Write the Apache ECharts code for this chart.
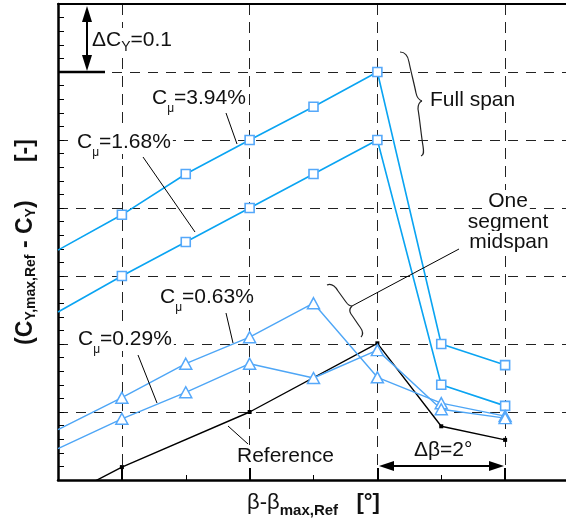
<!DOCTYPE html>
<html>
<head>
<meta charset="utf-8">
<script src="https://cdn.jsdelivr.net/npm/echarts@6/dist/echarts.min.js"></script>
<style>
html, body { margin: 0; padding: 0; background: #fff; }
#chart { width: 566px; height: 520px; }
</style>
</head>
<body>
<div id="chart"></div>
<script>
// x -- β-βmax,Ref [°]
// y -- CY,max,Ref - CY [-]
var beta = [-5, -4, -3, -2, -1, 0, 1, 2];
var cmu394 = [0.338, 0.390, 0.450, 0.500, 0.549, 0.600, 0.200, 0.169];
var cmu168 = [0.247, 0.300, 0.350, 0.400, 0.450, 0.500, 0.140, 0.109];
var cmu063 = [0.074, 0.121, 0.171, 0.210, 0.260, 0.151, 0.113, 0.094];
var cmu029 = [0.046, 0.090, 0.129, 0.171, 0.150, 0.191, 0.104, 0.091];
var betaRef = [-5, -4, -2, 0, 1, 2];
var cyRef = [-0.030, 0.019, 0.100, 0.201, 0.079, 0.059];

var xMin = -5, xMax = 3;
var font = '"Liberation Sans", Arial, sans-serif';
var ink = '#111';

var myChart = echarts.init(document.getElementById('chart'));

//把x,y数组拼成折线数据，左边界上的点只画线不画符号
function pts(xs, ys) {
	return xs.map(function(x, i) {
		var item = { value: [x, ys[i]] };
		if (x === xMin) item.symbol = 'none';
		return item;
	});
}

//带下标的注释文字（白底，盖住网格虚线）
function subText(left, mid, main, sub, rest, size, subSize, pad) {
	return {
		type: 'text', x: left, y: mid, z: 10,
		style: {
			text: '{m|' + main + '}{s|' + sub + '}{m|' + rest + '}',
			verticalAlign: 'middle',
			backgroundColor: '#fff', padding: [0, 2],
			rich: {
				m: { fontSize: size, fontFamily: font, fill: ink, lineHeight: 24 },
				s: { fontSize: subSize, fontFamily: font, fill: ink, lineHeight: 24, padding: [pad, 0, 0, 0] }
			}
		}
	};
}
function plain(left, mid, str, align) {
	return {
		type: 'text', x: left, y: mid, z: 10,
		style: {
			text: str, font: '21px ' + font, fill: ink, align: align || 'left', verticalAlign: 'middle',
			backgroundColor: '#fff', padding: [0, 2], lineHeight: 22
		}
	};
}
function seg(x1, y1, x2, y2, w) {
	return { type: 'line', z: 10, shape: { x1: x1, y1: y1, x2: x2, y2: y2 }, style: { stroke: '#000', lineWidth: w || 1 } };
}
function head(points) {
	return { type: 'polygon', z: 10, shape: { points: points }, style: { fill: '#000' } };
}
//花括号：每段三次贝塞尔 [x1,y1,cx1,cy1,cx2,cy2,x2,y2]
function brace(parts) {
	return {
		type: 'group',
		children: parts.map(function(p) {
			return {
				type: 'bezierCurve', z: 10,
				shape: { x1: p[0], y1: p[1], cpx1: p[2], cpy1: p[3], cpx2: p[4], cpy2: p[5], x2: p[6], y2: p[7] },
				style: { fill: null, stroke: '#222', lineWidth: 1.2 }
			};
		})
	};
}

var dashH = { color: '#222', width: 1, type: [10, 8] };
var dashV = { color: '#222', width: 1, type: [11, 7] };

var option = {
	animation: false,
	backgroundColor: '#fff',
	grid: [
		{ left: 58, top: 4, width: 511, height: 476, outerBoundsMode: 'none', containLabel: false },
		{ left: 122, top: 4, width: 383, height: 476, outerBoundsMode: 'none', containLabel: false }
	],
	xAxis: [
		{
			gridIndex: 0, type: 'value', min: xMin, max: xMax, interval: 1,
			axisLine: { onZero: false, lineStyle: { color: '#000', width: 2.5 } },
			axisTick: { inside: true, length: 5, lineStyle: { color: '#000', width: 1 } },
			axisLabel: { show: false },
			splitLine: { show: false },
			name: '{r|β-β}{s|max,Ref}{r|   }{b|[°]}',
			nameLocation: 'middle', nameGap: 10,
			nameTextStyle: {
				rich: {
					r: { fontSize: 22, fontFamily: font, color: ink, lineHeight: 26 },
					s: { fontSize: 15, fontFamily: font, fontWeight: 'bold', color: ink, lineHeight: 26, padding: [16, 0, 0, 0] },
					b: { fontSize: 22, fontFamily: font, fontWeight: 'bold', color: ink, lineHeight: 26 }
				}
			}
		},
		{
			gridIndex: 0, type: 'value', position: 'top', min: xMin, max: xMax,
			axisLine: { onZero: false, lineStyle: { color: '#000', width: 2 } },
			axisTick: { show: false }, axisLabel: { show: false }, splitLine: { show: false }
		},
		{
			gridIndex: 1, type: 'value', min: -4, max: 2, interval: 2,
			axisLine: { show: false, onZero: false },
			axisTick: { inside: true, length: 12, lineStyle: { color: '#000', width: 2 } },
			axisLabel: { show: false },
			splitLine: { show: true, lineStyle: dashV }
		}
	],
	yAxis: [
		{
			gridIndex: 0, type: 'value', min: 0, max: 0.7, interval: 0.1,
			axisLine: { onZero: false, lineStyle: { color: '#000', width: 2.5 } },
			axisTick: { inside: true, length: 6, lineStyle: { color: '#000', width: 1 } },
			minorTick: { show: true, splitNumber: 5, length: 6, lineStyle: { color: '#000', width: 1 } },
			axisLabel: { show: false },
			splitLine: { show: true, showMinLine: false, showMaxLine: false, lineStyle: dashH },
			name: '{b|(C}{s|Y,max,Ref}{b| - C}{s|Y}{b|)      [-]}',
			nameLocation: 'middle', nameGap: 19, nameRotate: 90,
			nameTextStyle: {
				rich: {
					b: { fontSize: 23, fontFamily: font, fontWeight: 'bold', color: ink, lineHeight: 26 },
					s: { fontSize: 14, fontFamily: font, fontWeight: 'bold', color: ink, lineHeight: 26, padding: [11, 0, 0, 0] }
				}
			}
		},
		{ gridIndex: 1, type: 'value', min: 0, max: 0.7, show: false, axisLine: { onZero: false } }
	],
	series: [
		{
			name: 'Cμ=3.94%', type: 'line', data: pts(beta, cmu394),
			symbol: 'rect', symbolSize: 9, z: 4,
			lineStyle: { color: '#0aa4f2', width: 1.6 },
			itemStyle: { color: '#fff', borderColor: '#55a8fa', borderWidth: 1.6 }
		},
		{
			name: 'Cμ=1.68%', type: 'line', data: pts(beta, cmu168),
			symbol: 'rect', symbolSize: 9, z: 4,
			lineStyle: { color: '#0aa4f2', width: 1.6 },
			itemStyle: { color: '#fff', borderColor: '#55a8fa', borderWidth: 1.6 }
		},
		{
			name: 'Cμ=0.63%', type: 'line', data: pts(beta, cmu063),
			symbol: 'triangle', symbolSize: [12, 11], z: 4,
			lineStyle: { color: '#4ea6f6', width: 1.4 },
			itemStyle: { color: '#fff', borderColor: '#55a8fa', borderWidth: 1.5 }
		},
		{
			name: 'Cμ=0.29%', type: 'line', data: pts(beta, cmu029),
			symbol: 'triangle', symbolSize: [12, 11], z: 4,
			lineStyle: { color: '#4ea6f6', width: 1.4 },
			itemStyle: { color: '#fff', borderColor: '#55a8fa', borderWidth: 1.5 }
		},
		{
			name: 'Reference', type: 'line', data: pts(betaRef, cyRef),
			symbol: 'rect', symbolSize: 4, z: 3,
			lineStyle: { color: '#000', width: 1.4 },
			itemStyle: { color: '#000' }
		}
	],
	graphic: [
		// ΔCY 标尺
		seg(58, 72, 105, 72, 2.5),
		seg(87, 18, 87, 60, 2),
		head([[87, 6], [82, 22], [92, 22]]),
		head([[87, 71], [82, 55], [92, 55]]),
		subText(90, 40, 'ΔC', 'Y', '=0.1', 21, 14, 14),
		// Δβ 标尺
		seg(390, 466, 493, 466, 2),
		head([[379, 466], [394, 461], [394, 471]]),
		head([[504, 466], [489, 461], [489, 471]]),
		{
			type: 'text', x: 414, y: 450, z: 10,
			style: { text: 'Δβ=2°', font: '21px ' + font, fill: ink, verticalAlign: 'middle' }
		},
		// Cμ 标注及引线
		subText(150, 98, 'C', 'μ', '=3.94%', 21, 12, 22),
		seg(226, 113, 237, 144),
		subText(75, 142, 'C', 'μ', '=1.68%', 21, 12, 22),
		seg(143, 157, 195, 232),
		subText(158, 297, 'C', 'μ', '=0.63%', 21, 12, 22),
		seg(226, 313, 233, 343),
		subText(76, 339, 'C', 'μ', '=0.29%', 21, 12, 22),
		seg(138, 355, 157, 403),
		plain(235, 456, 'Reference'),
		seg(228, 426, 248, 444),
		// Full span
		brace([
			[400, 52, 406, 52, 408, 56, 409, 62],
			[409, 62, 411, 72, 414, 83, 416, 93],
			[416, 93, 417, 98, 419, 100, 422, 101],
			[422, 101, 419, 102, 418, 105, 418, 109],
			[418, 109, 420, 121, 421, 134, 423, 146],
			[423, 146, 424, 152, 424, 155, 421, 156]
		]),
		plain(428, 100, 'Full span'),
		// One segment midspan
		brace([
			[327, 285, 332, 283, 335, 286, 338, 291],
			[338, 291, 341, 295, 343, 298, 346, 302],
			[346, 302, 348, 305, 350, 306, 352, 306],
			[352, 306, 350, 308, 349, 311, 351, 314],
			[351, 314, 354, 318, 357, 323, 360, 327],
			[360, 327, 363, 331, 364, 334, 361, 337]
		]),
		seg(352, 306, 459, 249),
		plain(508, 201, 'One', 'center'),
		plain(508, 222, 'segment', 'center'),
		plain(509, 242, 'midspan', 'center')
	]
};

myChart.setOption(option);
</script>
</body>
</html>
